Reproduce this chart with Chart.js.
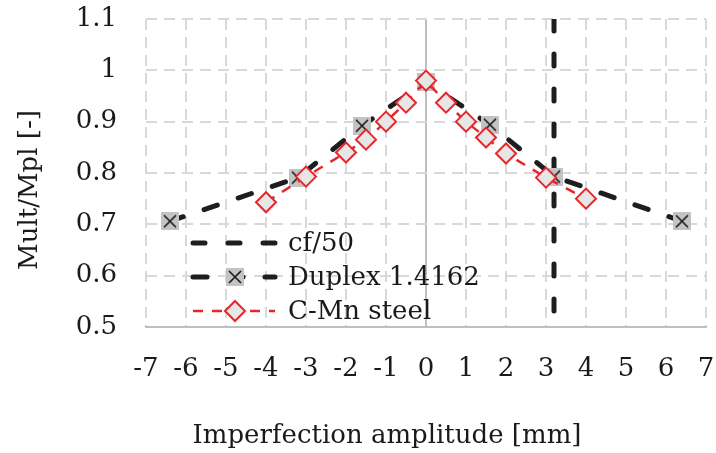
<!DOCTYPE html>
<html>
<head>
<meta charset="utf-8">
<script src="https://cdn.jsdelivr.net/npm/chart.js@4/dist/chart.umd.min.js"></script>
<style>
  html, body { margin: 0; padding: 0; background: #fff; }
  #wrap { width: 716px; height: 453px; }
</style>
</head>
<body>
<div id="wrap"><canvas id="chart" width="716" height="453"></canvas></div>
<script>
// data
const duplexX = [-6.4, -3.2, -1.6, 0, 1.6, 3.2, 6.4];
const duplexY = [0.706, 0.791, 0.892, 0.977, 0.894, 0.793, 0.706];
const cmnX = [-4, -3, -2, -1.5, -1, -0.5, 0, 0.5, 1, 1.5, 2, 3, 4];
const cmnY = [0.743, 0.793, 0.840, 0.865, 0.900, 0.937, 0.980, 0.937, 0.900, 0.869, 0.838, 0.791, 0.750];
const cfX = [3.2, 3.2];
const cfY = [1.1, 0.5];
const seriesNames = ['cf/50', 'Duplex 1.4162', 'C-Mn steel'];
const xTitle = 'Imperfection amplitude [mm]';
const yTitle = 'Mult/Mpl [-]';

const FONT = "'DejaVu Serif', 'Liberation Serif', serif";
const TEXT = '#1a1a1a';
const BLACK = '#1e1e1e';
const RED = '#e8262a';

function pts(xs, ys) {
    return xs.map((x, i) => ({ x: x, y: ys[i] }));
}

// grey square with a cross, like the Excel marker
function crossMarker() {
    const c = document.createElement('canvas');
    c.width = 18; c.height = 18;
    const g = c.getContext('2d');
    g.fillStyle = '#c3c3c3';
    g.fillRect(0, 0, 18, 18);
    g.strokeStyle = '#1a1a1a';
    g.lineWidth = 1.6;
    g.beginPath();
    g.moveTo(3, 3); g.lineTo(15, 15);
    g.moveTo(15, 3); g.lineTo(3, 15);
    g.stroke();
    return c;
}
const xMark = crossMarker();

// legend drawn inside the plot, line sample + marker like Excel
const insideLegend = {
    id: 'insideLegend',
    afterDraw(chart) {
        const ctx = chart.ctx;
        const area = chart.chartArea;
        const x0 = area.left + 47, x1 = area.left + 129, xm = area.left + 89;
        const rows = [area.top + 224, area.top + 258, area.top + 292];
        chart.data.datasets.forEach((ds, i) => {
            const y = rows[i];
            ctx.save();
            ctx.strokeStyle = ds.borderColor;
            ctx.lineWidth = ds.borderWidth;
            ctx.lineCap = ds.borderCapStyle || 'butt';
            ctx.setLineDash(ds.borderDash || []);
            ctx.beginPath();
            ctx.moveTo(x0, y);
            ctx.lineTo(x1, y);
            ctx.stroke();
            ctx.setLineDash([]);
            if (ds.pointRadius > 0) {
                ctx.fillStyle = ds.pointBackgroundColor;
                ctx.strokeStyle = ds.pointBorderColor;
                ctx.lineWidth = ds.pointBorderWidth;
                Chart.helpers.drawPoint(ctx, {
                    pointStyle: ds.pointStyle, radius: ds.pointRadius,
                    rotation: 0, borderWidth: ds.pointBorderWidth
                }, xm, y);
            }
            ctx.fillStyle = TEXT;
            ctx.font = '26px ' + FONT;
            ctx.textBaseline = 'middle';
            ctx.textAlign = 'left';
            ctx.fillText(ds.label, x1 + 13, y + 1);
            ctx.restore();
        });
    }
};

// axis titles (Excel places them off the plot centre)
const axisTitles = {
    id: 'axisTitles',
    afterDraw(chart) {
        const ctx = chart.ctx;
        ctx.save();
        ctx.fillStyle = TEXT;
        ctx.font = '26px ' + FONT;
        ctx.textAlign = 'center';
        ctx.textBaseline = 'middle';
        ctx.fillText(xTitle, 387, 436);
        ctx.translate(30, 190);
        ctx.rotate(-Math.PI / 2);
        ctx.fillText(yTitle, 0, 0);
        ctx.restore();
    }
};

new Chart(document.getElementById('chart'), {
    type: 'scatter',
    data: {
        datasets: [
            {
                label: seriesNames[0],
                data: pts(cfX, cfY),
                showLine: true,
                borderColor: BLACK,
                borderWidth: 5,
                borderDash: [12, 23],
                borderCapStyle: 'round',
                pointRadius: 0,
                order: 2
            },
            {
                label: seriesNames[1],
                data: pts(duplexX, duplexY),
                showLine: true,
                borderColor: BLACK,
                borderWidth: 5,
                borderDash: [14, 22],
                borderCapStyle: 'round',
                pointStyle: xMark,
                pointRadius: 9,
                pointBackgroundColor: '#c3c3c3',
                pointBorderColor: BLACK,
                pointBorderWidth: 1,
                order: 1
            },
            {
                label: seriesNames[2],
                data: pts(cmnX, cmnY),
                showLine: true,
                borderColor: RED,
                borderWidth: 2.5,
                borderDash: [10, 9],
                pointStyle: 'rectRot',
                pointRadius: 10,
                pointBackgroundColor: '#e6e6e6',
                pointBorderColor: RED,
                pointBorderWidth: 2,
                order: 0
            }
        ]
    },
    options: {
        responsive: false,
        animation: false,
        events: [],
        layout: { autoPadding: false, padding: { top: 19, right: 10, left: 0, bottom: 0 } },
        plugins: {
            legend: { display: false },
            tooltip: { enabled: false }
        },
        scales: {
            x: {
                type: 'linear',
                min: -7,
                max: 7,
                afterFit(scale) { scale.height = 126; },
                ticks: {
                    stepSize: 1,
                    padding: 0,
                    color: TEXT,
                    font: { family: FONT, size: 26 },
                    callback: v => String(v)
                },
                grid: {
                    drawTicks: true,
                    tickLength: 27,
                    tickColor: 'rgba(0,0,0,0)',
                    color: c => (c.tick && c.tick.value === 0) ? '#bfbfbf' : '#d9d9d9',
                    lineWidth: 2
                },
                border: {
                    display: true,
                    color: '#bfbfbf',
                    width: 2,
                    dash: c => (c.tick && c.tick.value === 0) ? [] : [11, 7]
                }
            },
            y: {
                min: 0.5,
                max: 1.1,
                afterFit(scale) { scale.width = 146; },
                ticks: {
                    stepSize: 0.1,
                    padding: 0,
                    color: TEXT,
                    font: { family: FONT, size: 26 },
                    callback: v => String(Number(v.toFixed(1)))
                },
                grid: {
                    drawTicks: true,
                    tickLength: 29,
                    tickColor: 'rgba(0,0,0,0)',
                    color: '#d9d9d9',
                    lineWidth: 2
                },
                border: {
                    display: false,
                    dash: [11, 7]
                }
            }
        }
    },
    plugins: [axisTitles, insideLegend]
});
</script>
</body>
</html>
